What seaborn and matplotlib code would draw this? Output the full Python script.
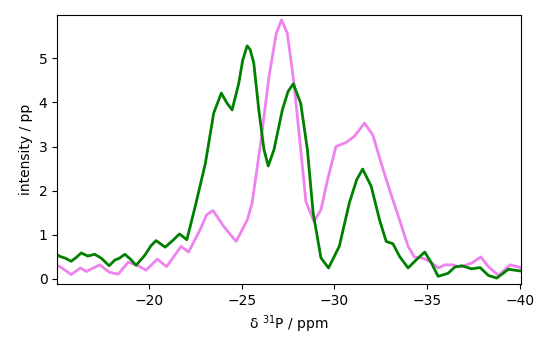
import numpy as np
import pandas as pd
import matplotlib
matplotlib.use("Agg")
import matplotlib.pyplot as plt
import seaborn as sns

# values
green_ppm = [-15.05, -15.2, -15.5, -15.8, -16.05, -16.35, -16.7, -17.07, -17.43, -17.85,
             -18.16, -18.4, -18.7, -19.0, -19.3, -19.78, -20.1, -20.38, -20.87, -21.3,
             -21.64, -22.04, -22.49, -23.04, -23.49, -23.9, -24.21, -24.48, -24.84, -25.05,
             -25.29, -25.45, -25.65, -25.92, -26.2, -26.43, -26.74, -27.19, -27.5, -27.78,
             -28.18, -28.54, -28.85, -29.27, -29.68, -30.26, -30.8, -31.2, -31.52, -31.98,
             -32.43, -32.79, -33.15, -33.51, -33.97, -34.5, -34.87, -35.23, -35.59, -36.13,
             -36.49, -36.86, -37.4, -37.85, -38.3, -38.75, -39.38, -40.05]
green_int = [0.55, 0.51, 0.47, 0.40, 0.48, 0.59, 0.52, 0.56, 0.47, 0.30,
             0.43, 0.47, 0.56, 0.45, 0.31, 0.54, 0.75, 0.87, 0.72, 0.88,
             1.02, 0.89, 1.64, 2.62, 3.76, 4.21, 3.98, 3.83, 4.43, 4.95,
             5.28, 5.20, 4.89, 3.83, 2.93, 2.56, 2.93, 3.83, 4.25, 4.42,
             3.98, 2.93, 1.50, 0.48, 0.25, 0.74, 1.72, 2.25, 2.49, 2.10,
             1.34, 0.85, 0.80, 0.51, 0.25, 0.47, 0.61, 0.36, 0.06, 0.13,
             0.27, 0.30, 0.23, 0.26, 0.08, 0.02, 0.22, 0.18]

violet_ppm = [-15.05, -15.2, -15.8, -16.3, -16.62, -17.34, -17.88, -18.34, -18.88, -19.33,
              -19.84, -20.45, -20.95, -21.73, -22.13, -22.76, -23.1, -23.45, -24.03, -24.7,
              -25.3, -25.56, -26.02, -26.47, -26.86, -27.15, -27.46, -27.82, -28.18, -28.46,
              -28.9, -29.27, -29.63, -30.08, -30.62, -31.07, -31.62, -32.07, -32.52, -32.97,
              -33.51, -33.97, -34.3, -34.78, -35.14, -35.59, -35.95, -36.4, -36.77, -37.4,
              -37.89, -38.3, -38.84, -39.47, -40.05]
violet_int = [0.30, 0.28, 0.10, 0.25, 0.17, 0.32, 0.15, 0.11, 0.38, 0.32,
              0.20, 0.45, 0.28, 0.74, 0.61, 1.12, 1.45, 1.55, 1.19, 0.85,
              1.34, 1.72, 3.08, 4.58, 5.56, 5.87, 5.56, 4.43, 2.93, 1.75,
              1.30, 1.57, 2.25, 3.00, 3.09, 3.23, 3.53, 3.26, 2.62, 2.02,
              1.34, 0.74, 0.50, 0.47, 0.40, 0.25, 0.32, 0.32, 0.27, 0.36,
              0.50, 0.28, 0.08, 0.32, 0.26]

fig, ax = plt.subplots(figsize=(5.5, 3.5), dpi=100)
sns.lineplot(x=violet_ppm, y=violet_int, color="violet", lw=2, ax=ax)
sns.lineplot(x=green_ppm, y=green_int, color="green", lw=2, ax=ax)

ax.set_xlim(-15.05, -40.05)
ax.set_ylim(-0.11, 5.97)
ax.set_xlabel(r"δ $^{31}$P / ppm")
ax.set_ylabel("intensity / pp")

fig.subplots_adjust(left=0.104, right=0.947, top=0.956, bottom=0.189)
fig.savefig("out.png", dpi=100)
